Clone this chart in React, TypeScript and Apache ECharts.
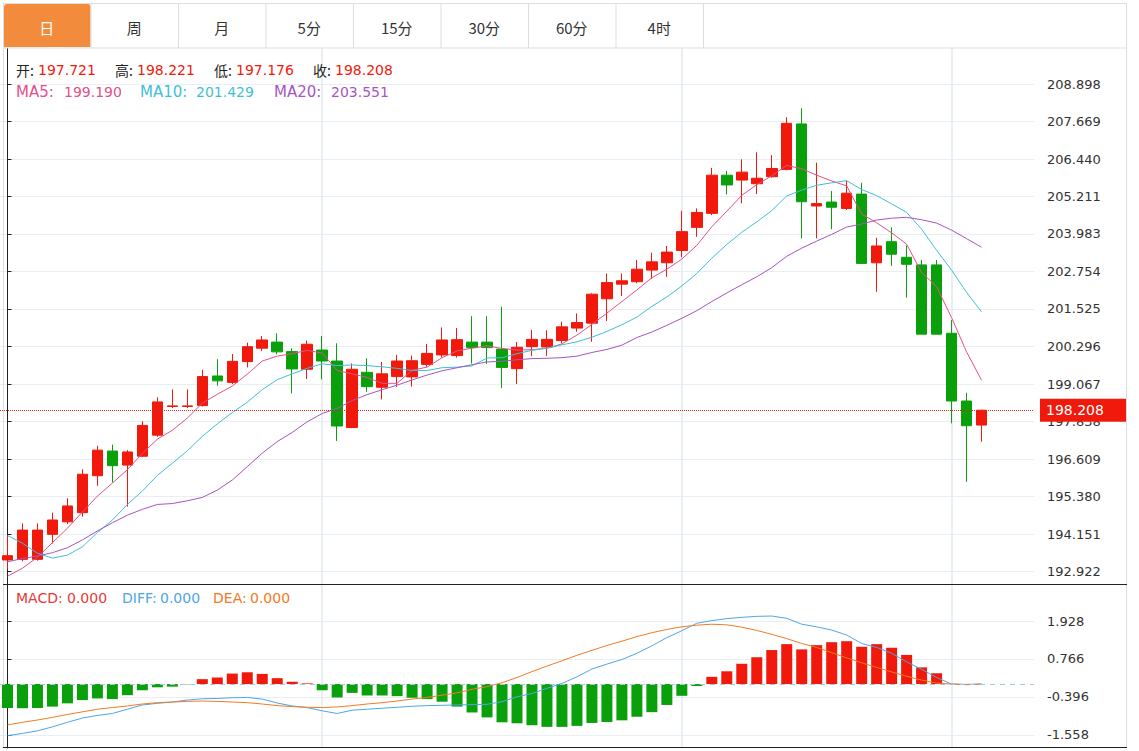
import React, { useEffect, useRef } from 'react';
import * as echarts from 'echarts';

// ---------- data ----------
const categories: string[] = Array.from({ length: 69 }, (_, i) => 'K' + (i + 1));

const opens = [193.30, 193.32, 193.32, 194.14, 194.55, 194.85, 196.06, 196.87, 196.41, 196.70,
  197.39, 198.33, 198.33, 198.36, 199.33, 199.12, 199.80, 200.24, 200.44, 200.13,
  199.55, 200.18, 199.82, 197.64, 199.45, 198.96, 199.31, 199.30, 199.71, 200.02,
  200.00, 200.44, 200.44, 200.21, 199.57, 200.29, 200.28, 200.49, 200.90, 201.06,
  201.86, 202.34, 202.42, 202.80, 203.04, 203.44, 204.20, 204.66, 205.91, 205.75,
  205.63, 205.86, 206.10, 207.59, 204.90, 205.03, 204.82, 205.29, 203.04, 203.73,
  203.22, 202.97, 202.97, 200.73, 198.51, 197.721];
const closes = [193.44, 194.28, 194.28, 194.61, 195.07, 196.11, 196.90, 196.39, 196.84, 197.71,
  198.48, 198.35, 198.35, 199.31, 199.17, 199.81, 200.29, 200.51, 200.12, 199.56,
  200.37, 199.82, 197.69, 199.55, 198.98, 199.40, 199.82, 199.83, 200.07, 200.51,
  200.52, 200.26, 200.26, 199.61, 200.27, 200.53, 200.53, 200.94, 201.08, 202.01,
  202.39, 202.45, 202.83, 203.07, 203.39, 204.06, 204.69, 205.91, 205.59, 206.01,
  205.81, 206.13, 207.61, 205.04, 204.98, 204.86, 205.32, 203.02, 203.59, 203.32,
  202.99, 200.70, 200.70, 198.51, 197.70, 198.208];
const highs = [194.09, 194.50, 194.50, 194.85, 195.32, 196.27, 197.04, 197.08, 196.90, 197.85,
  198.63, 198.89, 198.89, 199.53, 199.88, 200.05, 200.42, 200.64, 200.73, 200.24,
  200.49, 200.64, 200.40, 199.74, 199.91, 199.79, 200.02, 200.00, 200.38, 200.92,
  200.90, 201.29, 201.29, 201.60, 200.44, 200.84, 200.83, 201.11, 201.38, 202.04,
  202.69, 202.69, 203.13, 203.37, 203.59, 204.74, 204.82, 206.15, 206.05, 206.43,
  206.66, 206.57, 207.81, 208.10, 206.32, 205.39, 205.73, 205.66, 203.86, 204.20,
  203.61, 203.13, 203.13, 201.16, 198.78, 198.221];
const lows = [192.99, 193.26, 193.28, 193.84, 194.48, 194.72, 195.73, 195.84, 195.05, 196.68,
  197.34, 198.28, 198.28, 198.33, 199.01, 199.07, 199.61, 200.15, 200.04, 198.76,
  199.23, 199.22, 197.20, 197.62, 198.81, 198.56, 198.97, 198.98, 199.63, 199.94,
  199.93, 199.74, 199.72, 198.93, 199.07, 199.98, 199.99, 200.40, 200.78, 200.45,
  201.13, 201.95, 202.37, 202.51, 202.58, 203.22, 203.89, 204.60, 205.28, 204.99,
  205.29, 205.83, 206.07, 203.84, 203.84, 204.14, 204.77, 203.00, 202.09, 202.94,
  201.90, 200.70, 200.70, 197.78, 195.86, 197.176];

const ma5 = [192.77, 193.03, 193.39, 193.87, 194.34, 194.87, 195.39, 195.82, 196.26, 196.79,
  197.26, 197.55, 197.95, 198.44, 198.73, 199.00, 199.39, 199.82, 199.98, 200.06,
  200.17, 200.08, 199.51, 199.40, 199.28, 199.09, 199.09, 199.52, 199.62, 199.93,
  200.15, 200.24, 200.32, 200.23, 200.18, 200.19, 200.24, 200.38, 200.67, 201.02,
  201.39, 201.77, 202.15, 202.55, 202.83, 203.16, 203.61, 204.22, 204.73, 205.25,
  205.60, 205.89, 206.23, 206.12, 205.91, 205.72, 205.56, 204.64, 204.35, 204.02,
  203.65, 202.72, 202.26, 201.24, 200.12, 199.19];
const ma10 = [194.10, 193.85, 193.52, 193.36, 193.46, 193.73, 194.20, 194.61, 195.12, 195.56,
  196.07, 196.47, 196.88, 197.35, 197.76, 198.13, 198.47, 198.88, 199.21, 199.40,
  199.58, 199.73, 199.67, 199.69, 199.67, 199.63, 199.58, 199.51, 199.51, 199.60,
  199.62, 199.66, 199.92, 199.93, 200.06, 200.17, 200.24, 200.35, 200.45, 200.60,
  200.79, 201.01, 201.26, 201.61, 201.92, 202.28, 202.69, 203.19, 203.64, 204.04,
  204.38, 204.75, 205.23, 205.42, 205.58, 205.66, 205.73, 205.44, 205.24, 204.97,
  204.69, 204.14, 203.45, 202.80, 202.07, 201.429];
const ma20 = [193.24, 193.35, 193.43, 193.54, 193.70, 193.96, 194.25, 194.52, 194.77, 194.96,
  195.12, 195.15, 195.24, 195.35, 195.59, 195.92, 196.36, 196.80, 197.18, 197.48,
  197.83, 198.10, 198.27, 198.52, 198.72, 198.88, 199.03, 199.20, 199.36, 199.50,
  199.60, 199.70, 199.79, 199.81, 199.86, 199.90, 199.91, 199.93, 199.98, 200.10,
  200.20, 200.34, 200.59, 200.77, 200.99, 201.22, 201.47, 201.77, 202.05, 202.32,
  202.58, 202.88, 203.25, 203.52, 203.75, 203.97, 204.21, 204.31, 204.44, 204.50,
  204.53, 204.45, 204.34, 204.11, 203.83, 203.551];

const macdHist = [-0.73, -0.74, -0.73, -0.69, -0.59, -0.49, -0.44, -0.46, -0.34, -0.19,
  -0.10, -0.08, -0.01, 0.15, 0.20, 0.32, 0.36, 0.31, 0.18, 0.07,
  0.02, -0.19, -0.41, -0.27, -0.35, -0.35, -0.37, -0.42, -0.46, -0.54,
  -0.69, -0.87, -1.02, -1.17, -1.20, -1.26, -1.31, -1.31, -1.28, -1.19,
  -1.16, -1.11, -1.00, -0.86, -0.64, -0.36, -0.06, 0.22, 0.39, 0.62,
  0.82, 1.04, 1.22, 1.06, 1.19, 1.28, 1.31, 1.14, 1.22, 1.11,
  0.89, 0.51, 0.33, 0, 0, 0];
const diff = [-1.58, -1.51, -1.43, -1.31, -1.17, -1.04, -0.96, -0.90, -0.77, -0.64,
  -0.59, -0.55, -0.49, -0.45, -0.44, -0.42, -0.41, -0.46, -0.58, -0.67,
  -0.72, -0.82, -0.90, -0.80, -0.77, -0.74, -0.71, -0.68, -0.66, -0.65,
  -0.64, -0.63, -0.62, -0.54, -0.39, -0.29, -0.13, 0.02, 0.22, 0.46,
  0.61, 0.75, 0.94, 1.17, 1.42, 1.63, 1.86, 1.94, 2.00, 2.04,
  2.07, 2.08, 2.01, 1.83, 1.75, 1.65, 1.50, 1.24, 1.12, 0.94,
  0.68, 0.45, 0.20, 0, -0.01, 0];
const dea = [-1.25, -1.17, -1.10, -1.02, -0.93, -0.85, -0.77, -0.72, -0.67, -0.61,
  -0.57, -0.55, -0.53, -0.52, -0.53, -0.55, -0.57, -0.61, -0.66, -0.69,
  -0.71, -0.72, -0.70, -0.66, -0.61, -0.57, -0.52, -0.46, -0.41, -0.34,
  -0.27, -0.16, -0.08, 0.04, 0.20, 0.38, 0.55, 0.71, 0.88, 1.03,
  1.18, 1.31, 1.45, 1.57, 1.67, 1.75, 1.80, 1.83, 1.81, 1.74,
  1.64, 1.52, 1.39, 1.24, 1.12, 0.96, 0.80, 0.65, 0.51, 0.37,
  0.24, 0.12, 0.03, 0, -0.02, 0];

const priceTicks = [192.922, 194.151, 195.380, 196.609, 197.838, 199.067, 200.296,
  201.525, 202.754, 203.983, 205.211, 206.440, 207.669, 208.898];
const macdTicks = [-1.558, -0.396, 0.766, 1.928];
const monthBreaks = [21, 45, 63];
const tabs = ['日', '周', '月', '5分', '15分', '30分', '60分', '4时'];

// ---------- style ----------
const FONT = '"DejaVu Sans", "Noto Sans CJK SC", sans-serif';
const CJK = '"Noto Sans CJK SC", "DejaVu Sans", sans-serif';
const RED = '#f0190b';
const GREEN = '#0aa00c';
const C_MA5 = '#e4508a';
const C_MA10 = '#3fbfd6';
const C_MA20 = '#a655c3';
const C_DIFF = '#4ea6e6';
const C_DEA = '#f27a24';
const C_MACD = '#e53a36';
const GRID_LINE = '#e8eef3';
const GRID_W = 1034;

const last = closes.length - 1;
const candleData = opens.map((o, i) => [o, closes[i], lows[i], highs[i]]);

function txt(x: number, y: number, text: string, fill: string, family: string, size = 14) {
  return {
    type: 'text', x, y, z: 20,
    style: { text, fill, fontSize: size, fontFamily: family, verticalAlign: 'middle', align: 'left' },
  };
}

function buildGraphic() {
  const g: any[] = [];
  // tab bar frame
  g.push({ type: 'rect', z: 1, shape: { x: 3.5, y: 3.5, width: 1123, height: 44.5 }, style: { fill: '#fff', stroke: '#dddddd', lineWidth: 1 } });
  const tabW = 87.5;
  g.push({ type: 'rect', z: 2, shape: { x: 4, y: 4, width: tabW - 1, height: 43, r: [3, 3, 0, 0] }, style: { fill: '#f38b3d' } });
  tabs.forEach((t, i) => {
    const x0 = 3 + i * tabW;
    g.push({ type: 'line', z: 2, shape: { x1: x0 + tabW + 0.5, y1: 4, x2: x0 + tabW + 0.5, y2: 48 }, style: { stroke: '#dddddd', lineWidth: 1 } });
    g.push({
      type: 'text', z: 3, x: x0 + tabW / 2, y: 27,
      style: { text: t, fill: i === 0 ? '#ffffff' : '#333333', fontSize: 15, fontFamily: CJK, align: 'center', verticalAlign: 'middle' },
    });
  });
  // frame lines
  g.push({ type: 'line', z: 2, shape: { x1: 3.5, y1: 48, x2: 3.5, y2: 748 }, style: { stroke: '#dddddd', lineWidth: 1 } });
  g.push({ type: 'line', z: 2, shape: { x1: 1126.5, y1: 3, x2: 1126.5, y2: 748 }, style: { stroke: '#dddddd', lineWidth: 1 } });
  g.push({ type: 'line', z: 15, shape: { x1: 3, y1: 584.5, x2: 1127, y2: 584.5 }, style: { stroke: '#222222', lineWidth: 1 } });
  g.push({ type: 'line', z: 15, shape: { x1: 3, y1: 747.5, x2: 1127, y2: 747.5 }, style: { stroke: '#222222', lineWidth: 1 } });

  // legends: OHLC row
  const blk = '#222222';
  g.push(txt(16, 70, '开:', blk, CJK));
  g.push(txt(38, 70, opens[last].toFixed(3), RED, FONT));
  g.push(txt(115, 70, '高:', blk, CJK));
  g.push(txt(137, 70, highs[last].toFixed(3), RED, FONT));
  g.push(txt(214, 70, '低:', blk, CJK));
  g.push(txt(236, 70, lows[last].toFixed(3), RED, FONT));
  g.push(txt(313, 70, '收:', blk, CJK));
  g.push(txt(335, 70, closes[last].toFixed(3), RED, FONT));
  // MA row
  g.push(txt(16, 92, 'MA5:', C_MA5, FONT, 15));
  g.push(txt(64, 92, ma5[last].toFixed(3), C_MA5, FONT));
  g.push(txt(140, 92, 'MA10:', C_MA10, FONT, 15));
  g.push(txt(196, 92, ma10[last].toFixed(3), C_MA10, FONT));
  g.push(txt(274, 92, 'MA20:', C_MA20, FONT, 15));
  g.push(txt(331, 92, ma20[last].toFixed(3), C_MA20, FONT));
  // MACD row
  g.push(txt(16, 598, 'MACD:', C_MACD, FONT));
  g.push(txt(67, 598, macdHist[last].toFixed(3), C_MACD, FONT));
  g.push(txt(122, 598, 'DIFF:', C_DIFF, FONT));
  g.push(txt(160, 598, diff[last].toFixed(3), C_DIFF, FONT));
  g.push(txt(213, 598, 'DEA:', C_DEA, FONT));
  g.push(txt(250, 598, dea[last].toFixed(3), C_DEA, FONT));
  return g;
}

function yAxisCommon(ticks: number[]) {
  return {
    type: 'value', position: 'right', offset: 6,
    axisLine: { show: true, lineStyle: { color: '#222', width: 1 } },
    axisTick: { show: true, inside: false, length: 4, customValues: ticks, lineStyle: { color: '#222' } },
    axisLabel: {
      customValues: ticks, color: '#333', fontSize: 13, fontFamily: FONT, margin: 7,
      formatter: (v: number) => v.toFixed(3),
    },
    splitLine: { show: true, lineStyle: { color: GRID_LINE, width: 1 } },
  };
}

function vLineAxis(gridIndex: number) {
  return {
    type: 'value', gridIndex, min: -0.5, max: categories.length - 0.5,
    axisLine: { show: false }, axisLabel: { show: false },
    axisTick: { show: false, customValues: monthBreaks },
    splitLine: { show: true, lineStyle: { color: '#e2e9ef', width: 1.5 } },
  };
}

function buildOption(): any {
  return {
    animation: false,
    backgroundColor: '#ffffff',
    textStyle: { fontFamily: FONT },
    graphic: buildGraphic(),
    grid: [
      { left: 0, top: 48, width: GRID_W, height: 536 },
      { left: 0, top: 585, width: GRID_W, height: 163 },
    ],
    xAxis: [
      { type: 'category', gridIndex: 0, data: categories, boundaryGap: true, show: false },
      vLineAxis(0),
      { type: 'category', gridIndex: 1, data: categories, boundaryGap: true, show: false },
      vLineAxis(1),
    ],
    yAxis: [
      { ...yAxisCommon(priceTicks), gridIndex: 0, min: 192.513, max: 210.078 },
      { ...yAxisCommon(macdTicks), gridIndex: 1, min: -1.956, max: 3.029 },
    ],
    series: [
      {
        type: 'candlestick', name: 'K', xAxisIndex: 0, yAxisIndex: 0, data: candleData,
        barWidth: 11, z: 3,
        itemStyle: { color: RED, color0: GREEN, borderColor: RED, borderColor0: GREEN, borderWidth: 1 },
        markLine: {
          silent: true, symbol: ['none', 'none'], animation: false,
          lineStyle: { color: '#d8271c', type: 'dotted', width: 1 },
          label: {
            show: true, position: 'end', distance: 6,
            formatter: () => closes[last].toFixed(3),
            backgroundColor: '#f0190b', color: '#ffffff', fontSize: 14, fontFamily: FONT,
            padding: [5, 6, 4, 6], width: 74, align: 'left',
          },
          data: [{ yAxis: closes[last] }],
        },
      },
      { type: 'line', name: 'MA5', xAxisIndex: 0, yAxisIndex: 0, data: ma5, symbol: 'none', z: 4, lineStyle: { color: C_MA5, width: 1 } },
      { type: 'line', name: 'MA10', xAxisIndex: 0, yAxisIndex: 0, data: ma10, symbol: 'none', z: 4, lineStyle: { color: C_MA10, width: 1 } },
      { type: 'line', name: 'MA20', xAxisIndex: 0, yAxisIndex: 0, data: ma20, symbol: 'none', z: 4, lineStyle: { color: C_MA20, width: 1 } },
      {
        type: 'bar', name: 'MACD', xAxisIndex: 2, yAxisIndex: 1, data: macdHist, barWidth: 11, z: 3,
        itemStyle: { color: (p: any) => (p.value >= 0 ? RED : GREEN) },
        markLine: {
          silent: true, symbol: ['none', 'none'], animation: false,
          lineStyle: { color: '#a9c7da', type: [5, 5], width: 1 },
          label: { show: false },
          data: [{ yAxis: 0 }],
        },
      },
      { type: 'line', name: 'DIFF', xAxisIndex: 2, yAxisIndex: 1, data: diff, symbol: 'none', z: 4, lineStyle: { color: C_DIFF, width: 1 } },
      { type: 'line', name: 'DEA', xAxisIndex: 2, yAxisIndex: 1, data: dea, symbol: 'none', z: 4, lineStyle: { color: C_DEA, width: 1 } },
    ],
  };
}

export default function App() {
  const ref = useRef<HTMLDivElement>(null);
  useEffect(() => {
    if (!ref.current) return;
    const chart = echarts.init(ref.current, null, { renderer: 'svg' });
    chart.setOption(buildOption());
    return () => chart.dispose();
  }, []);
  return (
    <div
      ref={ref}
      style={{ position: 'fixed', left: 0, top: 0, width: 1139, height: 751, background: '#fff' }}
    />
  );
}
